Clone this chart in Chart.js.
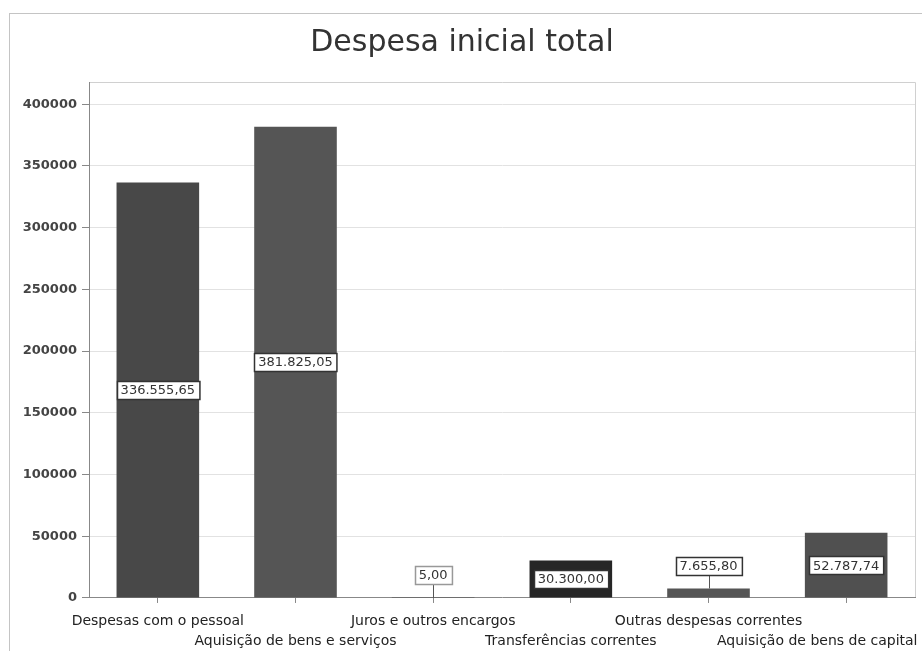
<!DOCTYPE html>
<html>
<head>
<meta charset="utf-8">
<script src="https://cdn.jsdelivr.net/npm/chart.js@4/dist/chart.umd.min.js"></script>
<style>
    html, body { margin: 0; padding: 0; background: #ffffff; }
    #wrap { width: 922px; height: 651px; position: relative; }
</style>
</head>
<body>
<div id="wrap"><canvas id="chart"></canvas></div>
<script>
const categories = [
    "Despesas com o pessoal",
    "Aquisição de bens e serviços",
    "Juros e outros encargos",
    "Transferências correntes",
    "Outras despesas correntes",
    "Aquisição de bens de capital"
];
const values = [336555.65, 381825.05, 5.00, 30300.00, 7655.80, 52787.74];
const yTicks = [0, 50000, 100000, 150000, 200000, 250000, 300000, 350000, 400000];

const barColors = ["#484848", "#555555", "#555555", "#262626", "#555555", "#505050"];

// pt-PT style: 336.555,65
function formatValue(v) {
    const parts = v.toFixed(2).split(".");
    const intPart = parts[0].replace(/\B(?=(\d{3})+(?!\d))/g, ".");
    return intPart + "," + parts[1];
}

// staggered category labels; the last one is nudged left so it stays inside the frame
function axisLabel(c, i) {
    let text = c;
    if (i === categories.length - 1) text = c + " ".repeat(13);
    return i % 2 === 0 ? [text, ""] : ["", text];
}

// boxed value labels, centred in the bar or lifted above with a leader line
const valueBoxes = {
    id: "valueBoxes",
    afterDatasetsDraw(chart) {
        const ctx = chart.ctx;
        const meta = chart.getDatasetMeta(0);
        ctx.save();
        ctx.font = "13px 'DejaVu Sans'";
        ctx.textAlign = "center";
        ctx.textBaseline = "middle";
        meta.data.forEach((bar, i) => {
            const text = formatValue(values[i]);
            const w = ctx.measureText(text).width + 8;
            const h = 18;
            const barH = bar.base - bar.y;
            let cy;
            if (barH > h + 4) {
                cy = bar.y + barH / 2;
            } else {
                cy = bar.y - 14 - h / 2;
                ctx.strokeStyle = "#555";
                ctx.lineWidth = 1;
                ctx.beginPath();
                ctx.moveTo(Math.round(bar.x) + 0.5, cy + h / 2);
                ctx.lineTo(Math.round(bar.x) + 0.5, bar.y);
                ctx.stroke();
            }
            const x0 = Math.round(bar.x - w / 2) + 0.5;
            const y0 = Math.round(cy - h / 2) + 0.5;
            ctx.fillStyle = "#ffffff";
            ctx.fillRect(x0, y0, w, h);
            ctx.strokeStyle = i === 2 ? "#999" : "#333";
            ctx.lineWidth = 1.5;
            ctx.strokeRect(x0, y0, w, h);
            ctx.fillStyle = "#333";
            ctx.fillText(text, bar.x, cy + 1);
        });
        ctx.restore();
    }
};

// outer frame and the top/right edges of the plot box
const frames = {
    id: "frames",
    beforeDraw(chart) {
        const ctx = chart.ctx;
        const a = chart.chartArea;
        ctx.save();
        ctx.strokeStyle = "#c4c4c4";
        ctx.lineWidth = 1;
        ctx.strokeRect(9.5, 13.5, 920, 650);
        ctx.strokeStyle = "#d0d0d0";
        ctx.beginPath();
        ctx.moveTo(a.left, Math.round(a.top) + 0.5);
        ctx.lineTo(Math.round(a.right) + 0.5, Math.round(a.top) + 0.5);
        ctx.lineTo(Math.round(a.right) + 0.5, a.bottom);
        ctx.stroke();
        ctx.restore();
    }
};

new Chart(document.getElementById("chart"), {
    type: "bar",
    data: {
        labels: categories.map(axisLabel),
        datasets: [
            {
                label: "Despesa inicial total",
                data: values,
                backgroundColor: barColors,
                borderWidth: 0,
                categoryPercentage: 0.6,
                barPercentage: 1.0,
            },
        ],
    },
    options: {
        responsive: true,
        maintainAspectRatio: false,
        animation: false,
        layout: {
            padding: { left: 9, right: 7, top: 0, bottom: 0 },
        },
        plugins: {
            legend: { display: false },
            tooltip: { enabled: false },
            title: {
                display: true,
                text: "Despesa inicial total",
                color: "#333333",
                font: { family: "'DejaVu Sans'", size: 30, weight: "normal" },
                padding: { top: 25, bottom: 21 },
            },
        },
        scales: {
            x: {
                afterFit(axis) {
                    axis.paddingLeft = 0;
                    axis.paddingRight = 0;
                    axis.height -= 8;
                },
                grid: {
                    offset: false,
                    drawOnChartArea: false,
                    tickLength: 5,
                    tickColor: "#888",
                },
                border: { color: "#888" },
                ticks: {
                    autoSkip: false,
                    maxRotation: 0,
                    minRotation: 0,
                    padding: 8,
                    color: "#222",
                    font: { family: "'DejaVu Sans'", size: 14, lineHeight: 1.43 },
                },
            },
            y: {
                min: 0,
                max: 418000,
                afterBuildTicks(axis) {
                    axis.ticks = yTicks.map((v) => ({ value: v }));
                },
                afterFit(axis) {
                    axis.width = 80;
                },
                grid: {
                    color: "#e2e2e2",
                    tickColor: "#888",
                    tickLength: 7,
                },
                border: { color: "#888" },
                ticks: {
                    padding: 5,
                    color: "#444",
                    font: { family: "'DejaVu Sans'", size: 13, weight: "bold" },
                    callback: (v) => String(v),
                },
            },
        },
    },
    plugins: [frames, valueBoxes],
});
</script>
</body>
</html>
